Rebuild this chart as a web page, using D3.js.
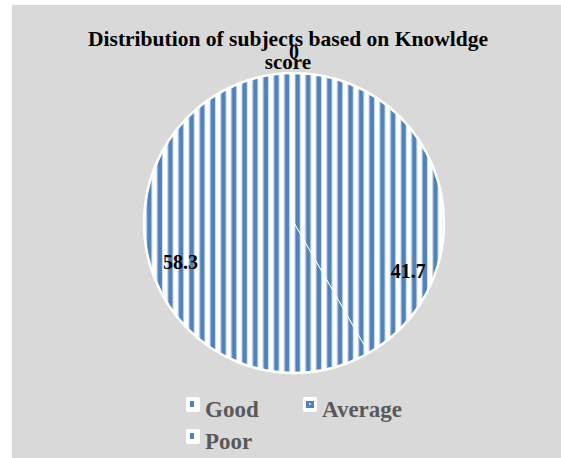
<!DOCTYPE html>
<html>
<head>
<meta charset="utf-8">
<script src="https://cdn.jsdelivr.net/npm/d3@7"></script>
<style>
  body { margin: 0; background: #fff; }
  svg { display: block; }
</style>
</head>
<body>
<div id="chart"></div>
<script>
const categories = ['Good', 'Average', 'Poor']
const values = [0, 41.7, 58.3]
const titleLines = ['Distribution of subjects based on Knowldge', 'score']

const width = 561
const height = 458
const FONT = '"Liberation Serif", "Times New Roman", serif'

const svg = d3.select('#chart').append('svg')
  .attr('width', width)
  .attr('height', height)

// stripe pattern, like the excel fill
const defs = svg.append('defs')
const pat = defs.append('pattern')
  .attr('id', 'stripes')
  .attr('patternUnits', 'userSpaceOnUse')
  .attr('width', 10.6)
  .attr('height', 10)
pat.append('rect').attr('width', 10.6).attr('height', 10).attr('fill', '#ffffff')
pat.append('rect').attr('x', 0.5).attr('width', 6).attr('height', 10).attr('fill', '#b9cde6')
pat.append('rect').attr('x', 1.5).attr('width', 4.2).attr('height', 10).attr('fill', '#4f81bd')

// background panel
svg.append('rect')
  .attr('x', 12).attr('y', 5)
  .attr('width', width - 12).attr('height', height - 5)
  .attr('fill', '#d9d9d9')

// title
svg.append('g')
  .selectAll('text')
  .data(titleLines)
  .join('text')
  .attr('x', 288)
  .attr('y', (d, i) => 46 + i * 23)
  .attr('text-anchor', 'middle')
  .attr('textLength', (d, i) => i === 0 ? 400 : null)
  .attr('lengthAdjust', 'spacingAndGlyphs')
  .style('font', `bold 21px ${FONT}`)
  .attr('fill', '#000')
  .text(d => d)

const cx = 294, cy = 223, radius = 150

const pie = d3.pie().sort(null).value(d => d)
const arcs = pie(values)
const arc = d3.arc().innerRadius(0).outerRadius(radius)

const g = svg.append('g').attr('transform', `translate(${cx},${cy})`)

g.selectAll('path')
  .data(arcs)
  .join('path')
  .attr('d', arc)
  .attr('fill', 'url(#stripes)')
  .attr('stroke', '#fff')
  .attr('stroke-width', 1)
  .attr('stroke-linejoin', 'round')

// white rim round the whole pie
g.append('circle')
  .attr('r', radius)
  .attr('fill', 'none')
  .attr('stroke', '#fff')
  .attr('stroke-width', 2.5)

// data labels (excel best fit, roughly)
const labelR = [171, 124, 120]
const labelNudge = [0, 0.66, -0.07]
g.selectAll('text.lbl')
  .data(arcs)
  .join('text')
  .attr('class', 'lbl')
  .each(function (d, i) {
    const a = (d.startAngle + d.endAngle) / 2 + labelNudge[i]
    d3.select(this)
      .attr('x', Math.sin(a) * labelR[i])
      .attr('y', -Math.cos(a) * labelR[i])
  })
  .attr('dy', '0.35em')
  .attr('text-anchor', 'middle')
  .style('font', `bold 20px ${FONT}`)
  .attr('fill', '#000')
  .text(d => d.data)

// legend
const legendPos = [[186, 397], [303, 397], [186, 429]]
const legend = svg.append('g')
  .selectAll('g')
  .data(categories)
  .join('g')
  .attr('transform', (d, i) => `translate(${legendPos[i][0]},${legendPos[i][1]})`)

legend.append('rect')
  .attr('width', 14).attr('height', 15)
  .attr('rx', 2)
  .attr('fill', '#fff')
legend.append('rect')
  .attr('x', (d, i) => i === 1 ? 3 : 4)
  .attr('y', 4)
  .attr('width', (d, i) => i === 1 ? 8 : 4)
  .attr('height', (d, i) => i === 1 ? 7 : 6)
  .attr('fill', '#4f81bd')
legend.filter((d, i) => i === 1).append('rect')
  .attr('x', 6).attr('y', 6).attr('width', 2).attr('height', 2)
  .attr('fill', '#b9cde6')

legend.append('text')
  .attr('x', 19)
  .attr('y', 20)
  .style('font', `bold 23px ${FONT}`)
  .attr('fill', '#595959')
  .text(d => d)
</script>
</body>
</html>
